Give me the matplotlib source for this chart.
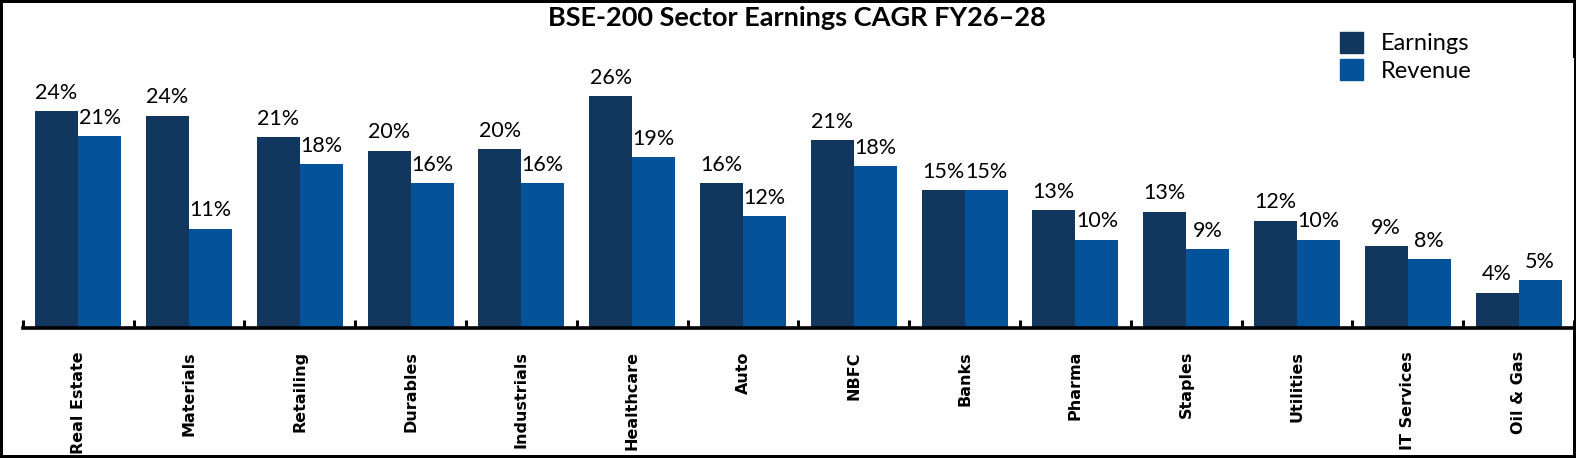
import numpy as np
import matplotlib
matplotlib.use("Agg")
import matplotlib.pyplot as plt
from matplotlib.patches import Patch

plt.rcParams['font.family'] = ['Lato', 'DejaVu Sans']

sectors = ['Real Estate', 'Materials', 'Retailing', 'Durables', 'Industrials',
           'Healthcare', 'Auto', 'NBFC', 'Banks', 'Pharma', 'Staples',
           'Utilities', 'IT Services', 'Oil & Gas']
earnings = [24.1, 23.6, 21.2, 19.7, 19.9, 25.8, 16.1, 20.9, 15.3, 13.1, 12.9, 11.9, 9.1, 3.9]
revenue = [21.3, 11.0, 18.2, 16.1, 16.1, 19.0, 12.4, 18.0, 15.3, 9.8, 8.7, 9.8, 7.6, 5.3]

c_earn = '#12375f'
c_rev = '#03529a'

W, H = 1576, 458
fig = plt.figure(figsize=(W / 100, H / 100), dpi=100)
fig.patch.set_edgecolor('black')
fig.patch.set_linewidth(4)

ymax = 30
ax = fig.add_axes([22.7 / W, 130.5 / H, (1574 - 22.7) / W, ymax * 8.97 / H])

x = np.arange(len(sectors))
bw = 0.388
b1 = ax.bar(x - bw / 2, earnings, bw, color=c_earn)
b2 = ax.bar(x + bw / 2, revenue, bw, color=c_rev)

for bars, vals in [(b1, earnings), (b2, revenue)]:
    for b, v in zip(bars, vals):
        ax.annotate(f"{round(v)}%", (b.get_x() + b.get_width() / 2, v),
                    xytext=(0, 6), textcoords='offset points',
                    ha='center', va='bottom', fontsize=15.5)

ax.set_xlim(-0.5, len(sectors) - 0.5)
ax.set_ylim(0, ymax)
ax.set_yticks([])
for s in ['top', 'right', 'left']:
    ax.spines[s].set_visible(False)
ax.spines['bottom'].set_linewidth(2.6)

ax.set_xticks(x)
ax.set_xticklabels(sectors, rotation=90, va='top')
for t in ax.get_xticklabels():
    t.set_fontfamily('DejaVu Sans')
    t.set_fontweight('bold')
    t.set_fontsize(11.5)
ax.tick_params(axis='x', which='major', length=0, pad=17)
ax.set_xticks(np.arange(-0.5, len(sectors)), minor=True)
ax.tick_params(axis='x', which='minor', direction='in', length=6, width=2.2)

handles = [Patch(color=c_earn, label='Earnings'), Patch(color=c_rev, label='Revenue')]
fig.legend(handles=handles, loc='upper left', bbox_to_anchor=(1328 / W, 1 - 20 / H),
           frameon=False, fontsize=17, handlelength=1.0, handleheight=1.0,
           handletextpad=0.75, labelspacing=0.2, borderpad=0)

fig.text(797 / W, 1 - 18 / H, 'BSE-200 Sector Earnings CAGR FY26–28',
         ha='center', va='center', fontsize=19.5, fontweight='bold')

fig.savefig('out.png', dpi=100)
